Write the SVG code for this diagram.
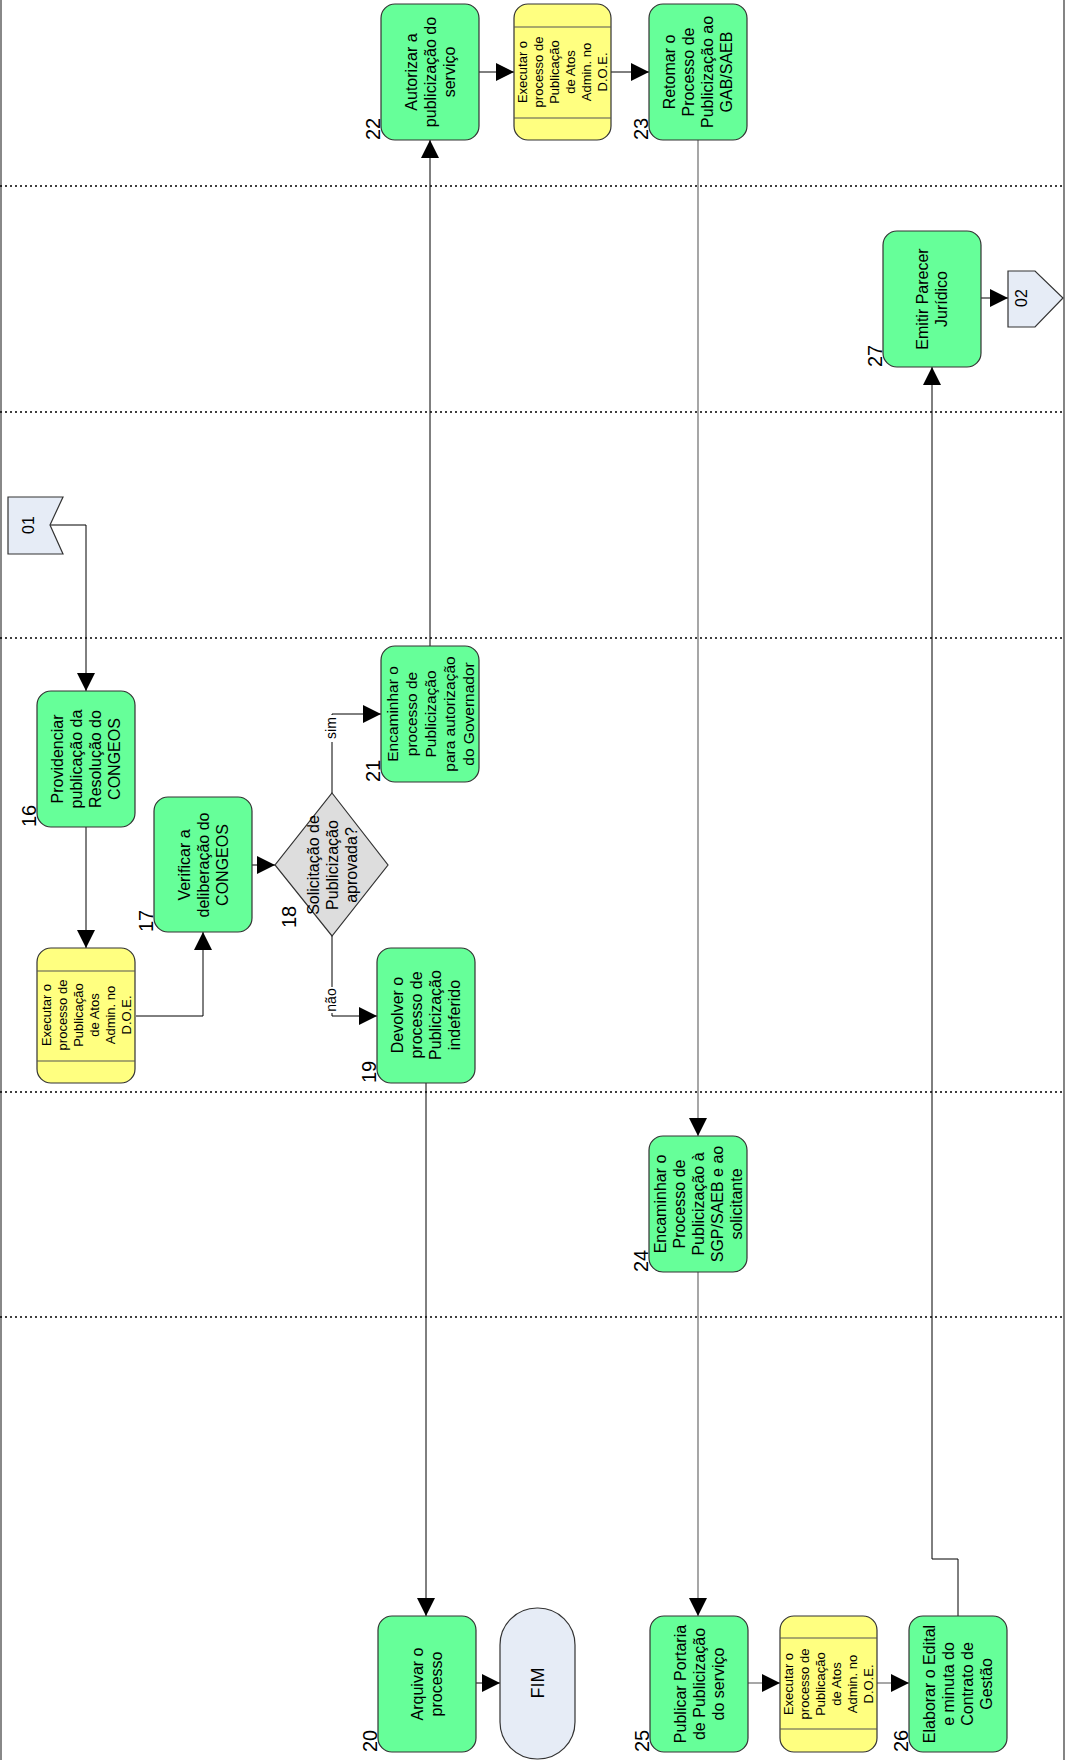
<svg xmlns="http://www.w3.org/2000/svg" width="1069" height="1760" viewBox="0 0 1069 1760">
<defs>
<marker id="arr" viewBox="0 0 10 10" refX="10" refY="5" markerWidth="18" markerHeight="18" markerUnits="userSpaceOnUse" orient="auto">
<path d="M0,0 L10,5 L0,10 Z" fill="#000"/>
</marker>
<style>
.task{fill:#66FF99;stroke:#333;stroke-width:1.2}
.sub{fill:#FFFF80;stroke:#333;stroke-width:1.2}
.subl{stroke:#555;stroke-width:1.2}
.ref{fill:#E6ECF6;stroke:#333;stroke-width:1.2}
.dec{fill:#DDDDDD;stroke:#333;stroke-width:1.2}
.t{font-family:"Liberation Sans",Arial,sans-serif;font-size:16px;fill:#000;text-anchor:middle}
.ts{font-family:"Liberation Sans",Arial,sans-serif;font-size:13px;fill:#000;text-anchor:middle}
.num{font-family:"Liberation Sans",Arial,sans-serif;font-size:20px;fill:#000}
.lbl{font-family:"Liberation Sans",Arial,sans-serif;font-size:14px;fill:#000;text-anchor:middle}
.c{fill:none;stroke:#000;stroke-width:1}
.cg{fill:none;stroke:#777;stroke-width:1.3}
.lane{stroke:#000;stroke-width:1.5;stroke-dasharray:2 3}
</style>
</defs>
<rect width="1069" height="1760" fill="#fff"/>
<g id="lanes">
<line x1="1" y1="0" x2="1" y2="1760" stroke="#888" stroke-width="2"/>
<line x1="1064" y1="0" x2="1064" y2="1760" stroke="#333" stroke-width="1.2"/>
<line class="lane" x1="0" y1="186" x2="1064" y2="186"/>
<line class="lane" x1="0" y1="412" x2="1064" y2="412"/>
<line class="lane" x1="0" y1="638" x2="1064" y2="638"/>
<line class="lane" x1="0" y1="1092" x2="1064" y2="1092"/>
<line class="lane" x1="0" y1="1317" x2="1064" y2="1317"/>
</g>
<g id="connectors">
<path class="c" d="M50,525 H86 V691" marker-end="url(#arr)"/>
<path class="c" d="M86,827 V948" marker-end="url(#arr)"/>
<path class="c" d="M136,1016 H203 V932" marker-end="url(#arr)"/>
<path class="c" d="M252,865 H275" marker-end="url(#arr)"/>
<path class="c" d="M332,793 V714 H381" marker-end="url(#arr)"/>
<path class="c" d="M332,936 V1016 H377" marker-end="url(#arr)"/>
<path class="c" d="M430,646 V140" marker-end="url(#arr)"/>
<path class="c" d="M479,72 H514" marker-end="url(#arr)"/>
<path class="c" d="M611,72 H649" marker-end="url(#arr)"/>
<path class="cg" d="M698,140 V1136" marker-end="url(#arr)"/>
<path class="cg" d="M698,1272 V1616" marker-end="url(#arr)"/>
<path class="c" d="M426,1083 V1616" marker-end="url(#arr)"/>
<path class="c" d="M476,1683 H500" marker-end="url(#arr)"/>
<path class="cg" d="M748,1683 H780" marker-end="url(#arr)"/>
<path class="cg" d="M877,1683 H909" marker-end="url(#arr)"/>
<path class="c" d="M958,1616 V1559 H932 V367" marker-end="url(#arr)"/>
<path class="c" d="M981,298 H1008" marker-end="url(#arr)"/>
<rect x="324" y="715" width="15" height="27" fill="#fff"/>
<text class="lbl" transform="translate(336,728) rotate(-90)">sim</text>
<rect x="324" y="987" width="15" height="26" fill="#fff"/>
<text class="lbl" transform="translate(336,1000) rotate(-90)">não</text>
</g>
<g id="ref01">
<path class="ref" d="M8,497 H63 L50,525 L63,554 H8 Z"/>
<text class="t" transform="translate(34,525) rotate(-90)">01</text>
</g>
<g id="n16">
<rect class="task" x="37" y="691" width="98" height="136" rx="14"/>
<text class="t" transform="translate(86,759) rotate(-90)"><tspan x="0" y="-23">Providenciar</tspan><tspan x="0" y="-4">publicação da</tspan><tspan x="0" y="15">Resolução do</tspan><tspan x="0" y="34">CONGEOS</tspan></text>
<text class="num" transform="translate(36,827) rotate(-90)">16</text>
</g>
<g id="y16">
<rect class="sub" x="37" y="948" width="98" height="135" rx="14"/>
<line class="subl" x1="37" y1="971" x2="135" y2="971"/>
<line class="subl" x1="37" y1="1061" x2="135" y2="1061"/>
<text class="ts" transform="translate(86,1015) rotate(-90)"><tspan x="0" y="-35">Executar o</tspan><tspan x="0" y="-19">processo de</tspan><tspan x="0" y="-3">Publicação</tspan><tspan x="0" y="13">de Atos</tspan><tspan x="0" y="29">Admin. no</tspan><tspan x="0" y="45">D.O.E.</tspan></text>
</g>
<g id="n17">
<rect class="task" x="154" y="797" width="98" height="135" rx="14"/>
<text class="t" transform="translate(203,865) rotate(-90)"><tspan x="0" y="-13">Verificar a</tspan><tspan x="0" y="6">deliberação do</tspan><tspan x="0" y="25">CONGEOS</tspan></text>
<text class="num" transform="translate(153,932) rotate(-90)">17</text>
</g>
<g id="n18">
<path class="dec" d="M332,793 L388,865 L332,936 L275,865 Z"/>
<text class="t" transform="translate(332,865) rotate(-90)"><tspan x="0" y="-13">Solicitação de</tspan><tspan x="0" y="6">Publicização</tspan><tspan x="0" y="25">aprovada?</tspan></text>
<text class="num" transform="translate(296,928) rotate(-90)">18</text>
</g>
<g id="n19">
<rect class="task" x="377" y="948" width="98" height="135" rx="14"/>
<text class="t" transform="translate(426,1015) rotate(-90)"><tspan x="0" y="-23">Devolver o</tspan><tspan x="0" y="-4">processo de</tspan><tspan x="0" y="15">Publicização</tspan><tspan x="0" y="34">indeferido</tspan></text>
<text class="num" transform="translate(376,1083) rotate(-90)">19</text>
</g>
<g id="n21">
<rect class="task" x="381" y="646" width="98" height="136" rx="14"/>
<text class="t" style="font-size:15.5px" transform="translate(430,714) rotate(-90)"><tspan x="0" y="-32">Encaminhar o</tspan><tspan x="0" y="-13">processo de</tspan><tspan x="0" y="6">Publicização</tspan><tspan x="0" y="25">para autorização</tspan><tspan x="0" y="44">do Governador</tspan></text>
<text class="num" transform="translate(380,782) rotate(-90)">21</text>
</g>
<g id="n22">
<rect class="task" x="381" y="4" width="98" height="136" rx="14"/>
<text class="t" transform="translate(430,72) rotate(-90)"><tspan x="0" y="-13">Autorizar a</tspan><tspan x="0" y="6">publicização do</tspan><tspan x="0" y="25">serviço</tspan></text>
<text class="num" transform="translate(380,140) rotate(-90)">22</text>
</g>
<g id="y22">
<rect class="sub" x="514" y="4" width="97" height="136" rx="14"/>
<line class="subl" x1="514" y1="27" x2="611" y2="27"/>
<line class="subl" x1="514" y1="118" x2="611" y2="118"/>
<text class="ts" transform="translate(562,72) rotate(-90)"><tspan x="0" y="-35">Executar o</tspan><tspan x="0" y="-19">processo de</tspan><tspan x="0" y="-3">Publicação</tspan><tspan x="0" y="13">de Atos</tspan><tspan x="0" y="29">Admin. no</tspan><tspan x="0" y="45">D.O.E.</tspan></text>
</g>
<g id="n23">
<rect class="task" x="649" y="4" width="98" height="136" rx="14"/>
<text class="t" transform="translate(698,72) rotate(-90)"><tspan x="0" y="-23">Retomar o</tspan><tspan x="0" y="-4">Processo de</tspan><tspan x="0" y="15">Publicização ao</tspan><tspan x="0" y="34">GAB/SAEB</tspan></text>
<text class="num" transform="translate(648,140) rotate(-90)">23</text>
</g>
<g id="n27">
<rect class="task" x="883" y="231" width="98" height="136" rx="14"/>
<text class="t" transform="translate(932,299) rotate(-90)"><tspan x="0" y="-4">Emitir Parecer</tspan><tspan x="0" y="15">Jurídico</tspan></text>
<text class="num" transform="translate(882,367) rotate(-90)">27</text>
</g>
<g id="ref02">
<path class="ref" d="M1008,271 H1035 L1063,298 L1035,327 H1008 Z"/>
<text class="t" transform="translate(1027,298) rotate(-90)">02</text>
</g>
<g id="n24">
<rect class="task" x="649" y="1136" width="98" height="136" rx="14"/>
<text class="t" transform="translate(698,1204) rotate(-90)"><tspan x="0" y="-32">Encaminhar o</tspan><tspan x="0" y="-13">Processo de</tspan><tspan x="0" y="6">Publicização à</tspan><tspan x="0" y="25">SGP/SAEB e ao</tspan><tspan x="0" y="44">solicitante</tspan></text>
<text class="num" transform="translate(648,1272) rotate(-90)">24</text>
</g>
<g id="n20">
<rect class="task" x="378" y="1616" width="98" height="136" rx="14"/>
<text class="t" transform="translate(427,1684) rotate(-90)"><tspan x="0" y="-4">Arquivar o</tspan><tspan x="0" y="15">processo</tspan></text>
<text class="num" transform="translate(377,1752) rotate(-90)">20</text>
</g>
<g id="fim">
<rect class="ref" x="500" y="1608" width="75" height="151" rx="37"/>
<text class="t" style="font-size:18px" transform="translate(544,1683) rotate(-90)">FIM</text>
</g>
<g id="n25">
<rect class="task" x="650" y="1616" width="98" height="136" rx="14"/>
<text class="t" transform="translate(699,1684) rotate(-90)"><tspan x="0" y="-13">Publicar Portaria</tspan><tspan x="0" y="6">de Publicização</tspan><tspan x="0" y="25">do serviço</tspan></text>
<text class="num" transform="translate(649,1752) rotate(-90)">25</text>
</g>
<g id="y25">
<rect class="sub" x="780" y="1616" width="97" height="136" rx="14"/>
<line class="subl" x1="780" y1="1638" x2="877" y2="1638"/>
<line class="subl" x1="780" y1="1729" x2="877" y2="1729"/>
<text class="ts" transform="translate(828,1684) rotate(-90)"><tspan x="0" y="-35">Executar o</tspan><tspan x="0" y="-19">processo de</tspan><tspan x="0" y="-3">Publicação</tspan><tspan x="0" y="13">de Atos</tspan><tspan x="0" y="29">Admin. no</tspan><tspan x="0" y="45">D.O.E.</tspan></text>
</g>
<g id="n26">
<rect class="task" x="909" y="1616" width="98" height="136" rx="14"/>
<text class="t" transform="translate(958,1684) rotate(-90)"><tspan x="0" y="-23">Elaborar o Edital</tspan><tspan x="0" y="-4">e minuta do</tspan><tspan x="0" y="15">Contrato de</tspan><tspan x="0" y="34">Gestão</tspan></text>
<text class="num" transform="translate(908,1752) rotate(-90)">26</text>
</g>
</svg>
